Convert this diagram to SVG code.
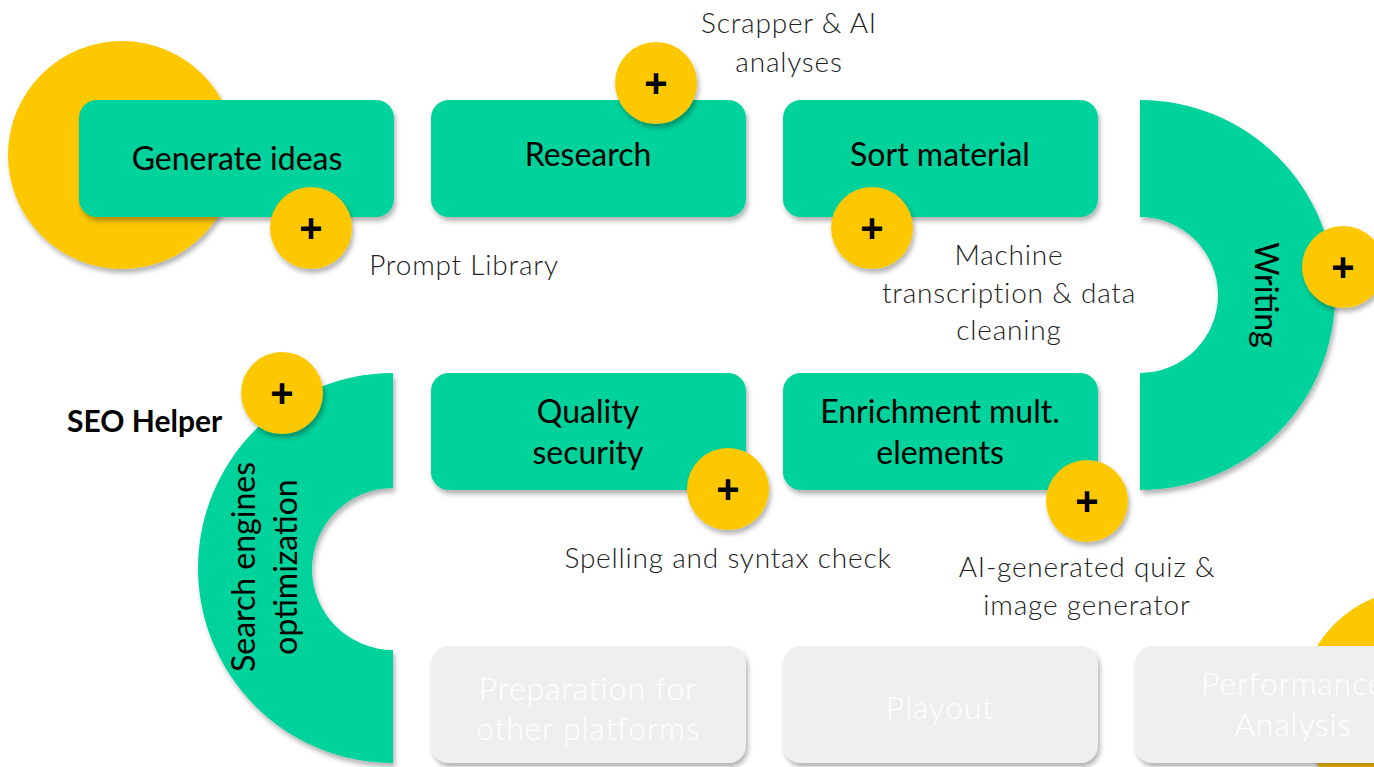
<svg xmlns="http://www.w3.org/2000/svg" width="1374" height="767" viewBox="0 0 1374 767">
  <defs>
    <filter id="sh" x="-20%" y="-20%" width="140%" height="150%">
      <feDropShadow dx="2" dy="4" stdDeviation="2.5" flood-color="#000" flood-opacity="0.3"/>
    </filter>
    <style>
      .box { fill: #00D29B; filter: url(#sh); }
      .gbox { fill: #EFEFEF; filter: url(#sh); }
      .big { fill: #FDC800; filter: url(#sh); }
      .dot { fill: #FDC800; filter: url(#sh); }
      .t { font-family: Lato, "Liberation Sans", sans-serif; font-size: 32px; fill: #000; text-anchor: middle; }
      .gt { font-family: Lato, "Liberation Sans", sans-serif; font-size: 32px; fill: #FFFFFF; text-anchor: middle; font-weight: 300; letter-spacing: 0.8px; }
      .lbl { font-family: Lato, "Liberation Sans", sans-serif; font-size: 28px; fill: #222222; font-weight: 300; text-anchor: middle; letter-spacing: 0.8px; }
      .plus { font-family: "Liberation Sans", sans-serif; font-size: 40px; font-weight: bold; fill: #000; text-anchor: middle; }
      .bold { font-family: Lato, "Liberation Sans", sans-serif; font-size: 30px; font-weight: bold; fill: #000; }
    </style>
  </defs>
  <rect width="1374" height="767" fill="#FFFFFF"/>

  <g id="connectors"></g>

  <g id="start-circle"><circle class="big" cx="122" cy="155" r="114"/></g>
  <g id="end-circle"><circle class="big" cx="1416" cy="705" r="115"/></g>

  <g id="generate-ideas">
    <rect class="box" x="79" y="100" width="315" height="117" rx="18"/>
    <text class="t" x="237" y="170">Generate ideas</text>
  </g>
  <g id="research">
    <rect class="box" x="431" y="100" width="315" height="117" rx="18"/>
    <text class="t" x="588" y="166">Research</text>
  </g>
  <g id="sort-material">
    <rect class="box" x="783" y="100" width="315" height="117" rx="18"/>
    <text class="t" x="940" y="166">Sort material</text>
  </g>
  <g id="writing">
    <path class="box" d="M1140,100 A195,195 0 0 1 1140,490 L1140,373 A78,78 0 0 0 1140,217 Z"/>
    <text class="t" transform="translate(1255,295) rotate(90)">Writing</text>
  </g>
  <g id="enrichment">
    <rect class="box" x="783" y="373" width="315" height="117" rx="18"/>
    <text class="t" x="940" y="423">Enrichment mult.</text>
    <text class="t" x="940" y="464">elements</text>
  </g>
  <g id="quality-security">
    <rect class="box" x="431" y="373" width="315" height="117" rx="18"/>
    <text class="t" x="588" y="423">Quality</text>
    <text class="t" x="588" y="464">security</text>
  </g>
  <g id="seo">
    <path class="box" d="M393,373 A195,195 0 0 0 393,763 L393,650 A81,81 0 0 1 393,488 Z"/>
    <text class="t" transform="translate(255,567) rotate(-90)">Search engines</text>
    <text class="t" transform="translate(297,567) rotate(-90)">optimization</text>
  </g>
  <g id="preparation">
    <rect class="gbox" x="431" y="646" width="315" height="117" rx="18"/>
    <text class="gt" x="588" y="700">Preparation for</text>
    <text class="gt" x="588" y="740">other platforms</text>
  </g>
  <g id="playout">
    <rect class="gbox" x="783" y="646" width="315" height="117" rx="18"/>
    <text class="gt" x="940" y="719">Playout</text>
  </g>
  <g id="performance">
    <rect class="gbox" x="1135" y="646" width="315" height="117" rx="18"/>
    <text class="gt" x="1293" y="695">Performance</text>
    <text class="gt" x="1293" y="736">Analysis</text>
  </g>

  <g id="plus-generate">
    <circle class="dot" cx="311" cy="228" r="41"/>
    <text class="plus" x="311" y="242">+</text>
  </g>
  <g id="plus-research">
    <circle class="dot" cx="656" cy="83" r="41"/>
    <text class="plus" x="656" y="97">+</text>
  </g>
  <g id="plus-sort">
    <circle class="dot" cx="872" cy="228" r="41"/>
    <text class="plus" x="872" y="242">+</text>
  </g>
  <g id="plus-writing">
    <circle class="dot" cx="1343" cy="267" r="41"/>
    <text class="plus" x="1343" y="281">+</text>
  </g>
  <g id="plus-enrichment">
    <circle class="dot" cx="1087" cy="501" r="41"/>
    <text class="plus" x="1087" y="515">+</text>
  </g>
  <g id="plus-quality">
    <circle class="dot" cx="728" cy="489" r="41"/>
    <text class="plus" x="728" y="503">+</text>
  </g>
  <g id="plus-seo">
    <circle class="dot" cx="282" cy="393" r="41"/>
    <text class="plus" x="282" y="407">+</text>
  </g>

  <g id="labels">
    <text class="lbl" x="789" y="33">Scrapper &amp; AI</text>
    <text class="lbl" x="789" y="72">analyses</text>
    <text class="lbl" x="464" y="275">Prompt Library</text>
    <text class="lbl" x="1009" y="265">Machine</text>
    <text class="lbl" x="1009" y="303">transcription &amp; data</text>
    <text class="lbl" x="1009" y="340">cleaning</text>
    <text class="lbl" x="728" y="568">Spelling and syntax check</text>
    <text class="lbl" x="1087" y="577">AI-generated quiz &amp;</text>
    <text class="lbl" x="1087" y="615">image generator</text>
    <text class="bold" x="67" y="432">SEO Helper</text>
  </g>
</svg>
